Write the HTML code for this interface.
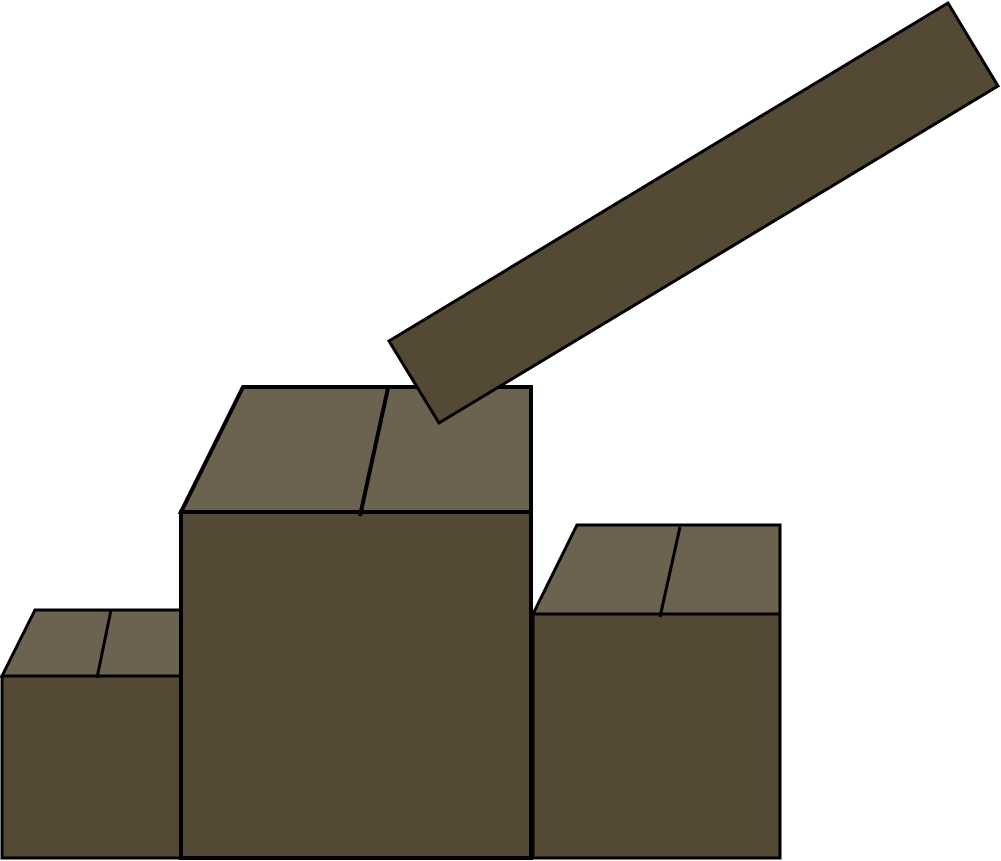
<!DOCTYPE html>
<html>
<head>
<meta charset="utf-8">
<style>
html,body{margin:0;padding:0;background:#fff;}
svg{display:block;}
</style>
</head>
<body>
<svg width="1001" height="861" viewBox="0 0 1001 861">
  <g stroke="#000" stroke-linejoin="miter">
    <g>
      <rect x="2" y="676" width="179" height="182" fill="#544935" stroke-width="3"/>
      <polygon points="2,676 35,610 181,610 181,676" fill="#6b6350" stroke-width="3"/>
      <line x1="111" y1="610" x2="97" y2="678" stroke-width="3"/>
    </g>
    <g>
      <rect x="181" y="512" width="350" height="346" fill="#544935" stroke-width="4"/>
      <polygon points="181,512 243,387 531,387 531,512" fill="#6b6350" stroke-width="4"/>
      <line x1="388" y1="388" x2="360" y2="516" stroke-width="4"/>
    </g>
    <g>
      <rect x="533" y="614" width="247" height="244" fill="#544935" stroke-width="3"/>
      <polygon points="533,614 577,525 780,525 780,614" fill="#6b6350" stroke-width="3"/>
      <line x1="680" y1="527" x2="660" y2="617" stroke-width="3"/>
    </g>
    <polygon points="389,341 948,3 998,86 439,423" fill="#544935" stroke-width="3"/>
  </g>
</svg>
</body>
</html>
